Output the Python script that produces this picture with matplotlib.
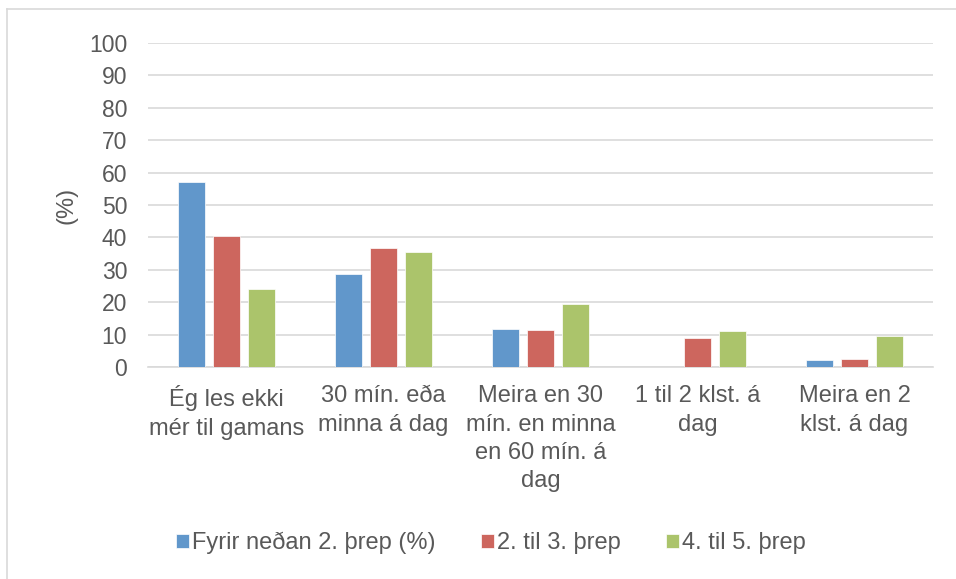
import numpy as np
import matplotlib
matplotlib.use('Agg')
import matplotlib.pyplot as plt
from matplotlib.lines import Line2D

plt.rcParams['font.family'] = ['Liberation Sans', 'DejaVu Sans']

# 범주와 값
categories = ['Ég les ekki\nmér til gamans', '30 mín. eða\nminna á dag',
              'Meira en 30\nmín. en minna\nen 60 mín. á\ndag',
              '1 til 2 klst. á\ndag', 'Meira en 2\nklst. á dag']
series_names = ['Fyrir neðan 2. þrep (%)', '2. til 3. þrep', '4. til 5. þrep']
fyrir_nedan = [57.1, 28.6, 11.8, 0, 2.3]
til_3 = [40.4, 36.7, 11.4, 8.8, 2.5]
til_5 = [24.1, 35.5, 19.4, 11.2, 9.6]
yticks = [0, 10, 20, 30, 40, 50, 60, 70, 80, 90, 100]

colors = ['#6197CB', '#CD665E', '#ABC46B']
text_color = '#595959'

fig = plt.figure(figsize=(9.56, 5.79), dpi=100)
ax = fig.add_axes([148/956, 1-367/579, (933-148)/956, (367-43)/579])

x = np.arange(len(categories))
w = 0.172
step = 0.221
for i, vals in enumerate([fyrir_nedan, til_3, til_5]):
    ax.bar(x + (i-1)*step, vals, width=w, color=colors[i], label=series_names[i],
           edgecolor='white', linewidth=0.5, zorder=3)

ax.set_xlim(-0.5, len(categories)-0.5)
ax.set_ylim(0, 100)
ax.set_yticks(yticks)
ax.yaxis.grid(True, color='#D9D9D9', linewidth=1.2, zorder=0)
ax.set_axisbelow(True)
for s in ['top', 'right', 'left']:
    ax.spines[s].set_visible(False)
ax.spines['bottom'].set_color('#D9D9D9')
ax.spines['bottom'].set_linewidth(1.2)
ax.tick_params(axis='y', length=0, pad=15, labelsize=16.5, labelcolor=text_color)
ax.tick_params(axis='x', length=0, pad=13, labelsize=17, labelcolor=text_color)
ax.set_xticks(x)
ax.set_xticklabels(categories, linespacing=1.38)
ax.set_ylabel('(%)', fontsize=17, color=text_color)
ax.yaxis.set_label_coords(-0.09, 0.5)

fig.legend(loc='center', bbox_to_anchor=(491/956, 1-543/579), ncol=3, frameon=False,
           fontsize=17, labelcolor=text_color, handlelength=0.55, handleheight=0.55,
           handletextpad=0.15, columnspacing=1.9)

# 차트 테두리
fig.add_artist(Line2D([6.5/956, 6.5/956], [0, 1-8.5/579], color='#D9D9D9', lw=1.2))
fig.add_artist(Line2D([6.5/956, 1], [1-8.5/579, 1-8.5/579], color='#D9D9D9', lw=1.2))

fig.savefig('out.png', dpi=100)
